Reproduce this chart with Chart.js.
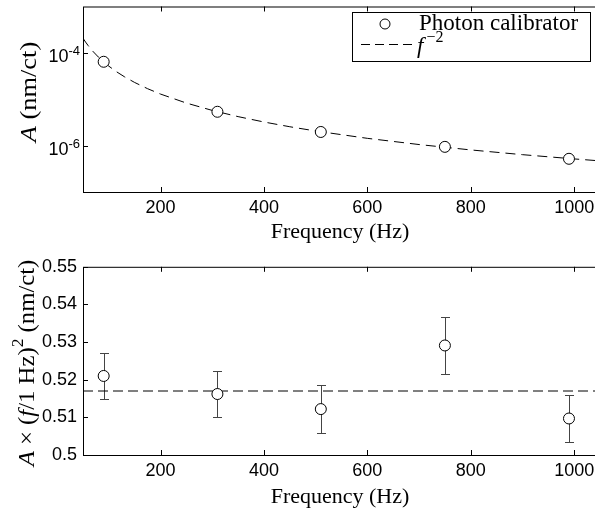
<!DOCTYPE html>
<html>
<head>
<meta charset="utf-8">
<script src="https://cdn.jsdelivr.net/npm/chart.js@4"></script>
<style>
  html, body { margin: 0; padding: 0; background: #fff; }
  body { width: 595px; height: 510px; overflow: hidden; position: relative; }
  canvas { display: block; position: absolute; left: 0; }
  #top { top: 0; }
  #bottom { top: 250px; }
</style>
</head>
<body>
<canvas id="top" width="610" height="250"></canvas>
<canvas id="bottom" width="610" height="260"></canvas>
<script>
// measured frequencies (Hz)
var freq = [90, 310, 510, 750, 990];
// actuation amplitude A (nm/ct), top panel
var amp = [6.43e-5, 5.37e-6, 1.97e-6, 9.41e-7, 5.20e-7];
// A x (f / 1 Hz)^2 (nm/ct), bottom panel, with 1-sigma errors
var normAmp = [0.5210, 0.5162, 0.5122, 0.5291, 0.5097];
var normErr = [0.0060, 0.0060, 0.0064, 0.0075, 0.0063];
// f^-2 fit constant and the frequencies the model curve is drawn at
var fitConst = 0.517;
var fitFreq = [50, 55, 60, 65, 70, 80, 90, 100, 115, 130, 150, 175, 200, 250, 300,
               350, 400, 450, 500, 600, 700, 800, 900, 1000, 1050];
var xTicks = [200, 400, 600, 800, 1000];
var logTicks = [-6, -4];

var sans = 'Liberation Sans, Arial, sans-serif';
var serif = 'Liberation Serif, Times New Roman, serif';
var tickFont = { family: sans, size: 18 };

function richText(ctx, parts, cx, cy, rot, size, sx) {
  var supSize = Math.round(size * 0.7);
  ctx.save();
  ctx.translate(cx, cy);
  if (rot) ctx.rotate(-Math.PI / 2);
  ctx.scale(sx || 1, 1);
  ctx.textBaseline = 'middle';
  ctx.textAlign = 'left';
  ctx.fillStyle = '#000';
  var fontOf = function (p) {
    return (p.italic ? 'italic ' : '') + (p.sup ? supSize : size) + 'px ' + serif;
  };
  var w = 0;
  parts.forEach(function (p) { ctx.font = fontOf(p); w += ctx.measureText(p.t).width; });
  var x = -w / 2;
  parts.forEach(function (p) {
    ctx.font = fontOf(p);
    ctx.fillText(p.t, x, p.sup ? -size * 0.4 : 0);
    x += ctx.measureText(p.t).width;
  });
  ctx.restore();
}

function frameTicks(chart) {
  var ctx = chart.ctx, a = chart.chartArea;
  var xs = chart.scales.x, ys = chart.scales.y;
  ctx.save();
  ctx.strokeStyle = '#000';
  ctx.lineWidth = 1;
  ctx.strokeRect(a.left + 0.5, a.top + 0.5, a.right - a.left, a.bottom - a.top);
  ctx.beginPath();
  xs.ticks.forEach(function (t) {
    var px = Math.round(xs.getPixelForValue(t.value)) + 0.5;
    ctx.moveTo(px, a.bottom); ctx.lineTo(px, a.bottom - 5);
    ctx.moveTo(px, a.top); ctx.lineTo(px, a.top + 5);
  });
  ys.ticks.forEach(function (t) {
    var py = Math.round(ys.getPixelForValue(t.value)) + 0.5;
    ctx.moveTo(a.left, py); ctx.lineTo(a.left + 5, py);
    ctx.moveTo(a.right, py); ctx.lineTo(a.right - 5, py);
  });
  ctx.stroke();
  ctx.restore();
}

function setXTicks(s) { s.ticks = xTicks.map(function (v) { return { value: v }; }); }

var xScale = {
  type: 'linear', min: 50, max: 1050,
  afterBuildTicks: setXTicks,
  grid: { display: false, drawTicks: false },
  border: { display: false },
  ticks: {
    font: tickFont, color: '#000', padding: 5,
    callback: function (v) { return String(v); }
  }
};

var topPlugin = {
  id: 'topDeco',
  afterDraw: function (chart) {
    var ctx = chart.ctx, ys = chart.scales.y;
    frameTicks(chart);
    // log tick labels 10^n
    ctx.save();
    ctx.fillStyle = '#000';
    ctx.textBaseline = 'alphabetic';
    ys.ticks.forEach(function (t) {
      var py = ys.getPixelForValue(t.value);
      var e = String(Math.round(Math.log10(t.value)));
      ctx.font = '13px ' + sans;
      var ew = ctx.measureText(e).width;
      ctx.textAlign = 'right';
      ctx.fillText(e, 80, py + 2);
      ctx.font = '18px ' + sans;
      ctx.fillText('10', 80 - ew, py + 9);
    });
    ctx.restore();
    // legend
    ctx.save();
    ctx.fillStyle = '#fff';
    ctx.fillRect(352, 12, 238, 49);
    ctx.strokeStyle = '#000';
    ctx.lineWidth = 1;
    ctx.strokeRect(352.5, 12.5, 238, 49);
    ctx.beginPath();
    ctx.arc(385, 24, 5, 0, Math.PI * 2);
    ctx.stroke();
    ctx.setLineDash([9, 5]);
    ctx.beginPath();
    ctx.moveTo(361, 44.5); ctx.lineTo(412, 44.5);
    ctx.stroke();
    ctx.setLineDash([]);
    ctx.fillStyle = '#000';
    ctx.textBaseline = 'middle';
    ctx.textAlign = 'left';
    ctx.font = '23px ' + serif;
    ctx.fillText('Photon calibrator', 419, 24);
    ctx.font = 'italic 23px ' + serif;
    ctx.fillText('f', 417, 47);
    var fw = ctx.measureText('f').width;
    ctx.font = '16px ' + serif;
    ctx.fillText('\u22122', 417 + fw + 3, 38);
    ctx.restore();
    richText(ctx, [{ t: 'Frequency (Hz)' }], 340, 232, false, 22, 1);
    richText(ctx, [{ t: 'A', italic: true }, { t: ' (nm/ct)' }], 30, 92, true, 24, 1.1);
  }
};

var bottomPlugin = {
  id: 'bottomDeco',
  beforeDatasetsDraw: function (chart) {
    var ctx = chart.ctx, xs = chart.scales.x, ys = chart.scales.y;
    ctx.save();
    ctx.strokeStyle = '#444';
    ctx.lineWidth = 1;
    ctx.beginPath();
    freq.forEach(function (f, i) {
      var px = Math.round(xs.getPixelForValue(f)) + 0.5;
      var y1 = Math.round(ys.getPixelForValue(normAmp[i] + normErr[i])) + 0.5;
      var y2 = Math.round(ys.getPixelForValue(normAmp[i] - normErr[i])) + 0.5;
      ctx.moveTo(px, y1); ctx.lineTo(px, y2);
      ctx.moveTo(px - 4.5, y1); ctx.lineTo(px + 4.5, y1);
      ctx.moveTo(px - 4.5, y2); ctx.lineTo(px + 4.5, y2);
    });
    ctx.stroke();
    ctx.restore();
  },
  afterDraw: function (chart) {
    var ctx = chart.ctx;
    frameTicks(chart);
    richText(ctx, [{ t: 'Frequency (Hz)' }], 340, 247, false, 22, 1);
    richText(ctx, [
      { t: 'A', italic: true }, { t: ' \u00d7 (' }, { t: 'f', italic: true },
      { t: '/1 Hz)' }, { t: '2', sup: true }, { t: ' (nm/ct)' }
    ], 28, 113, true, 24, 1.03);
  }
};

var circleStyle = {
  showLine: false, pointStyle: 'circle', pointRadius: 5.5,
  borderColor: '#000', backgroundColor: '#fff', pointBorderWidth: 1
};

new Chart(document.getElementById('top'), {
  type: 'scatter',
  data: {
    datasets: [
      {
        label: 'f^-2',
        data: fitFreq.map(function (f) { return { x: f, y: fitConst / (f * f) }; }),
        showLine: true, borderColor: '#000', borderWidth: 1, borderDash: [10, 6],
        pointRadius: 0, tension: 0, order: 2
      },
      Object.assign({
        label: 'Photon calibrator',
        data: freq.map(function (f, i) { return { x: f, y: amp[i] }; }),
        order: 1
      }, circleStyle)
    ]
  },
  options: {
    responsive: false,
    animation: false,
    layout: { padding: { top: 3, right: 10, left: 0, bottom: 0 } },
    plugins: { legend: { display: false }, tooltip: { enabled: false } },
    scales: {
      x: Object.assign({}, xScale, { afterFit: function (s) { s.height = 58; } }),
      y: {
        type: 'logarithmic', min: 1e-7, max: 1e-3,
        afterBuildTicks: function (s) {
          s.ticks = logTicks.map(function (e) { return { value: Math.pow(10, e) }; });
        },
        grid: { display: false, drawTicks: false },
        border: { display: false },
        ticks: { display: false },
        afterFit: function (s) { s.width = 83; }
      }
    }
  },
  plugins: [topPlugin]
});

new Chart(document.getElementById('bottom'), {
  type: 'scatter',
  data: {
    datasets: [
      {
        label: 'fit',
        data: [{ x: 50, y: fitConst }, { x: 1050, y: fitConst }],
        showLine: true, borderColor: '#000', borderWidth: 1, borderDash: [10, 5],
        pointRadius: 0, order: 2
      },
      Object.assign({
        label: 'Photon calibrator',
        data: freq.map(function (f, i) { return { x: f, y: normAmp[i] }; }),
        order: 1
      }, circleStyle)
    ]
  },
  options: {
    responsive: false,
    animation: false,
    layout: { padding: { top: 16, right: 10, left: 0, bottom: 0 } },
    plugins: { legend: { display: false }, tooltip: { enabled: false } },
    scales: {
      x: Object.assign({}, xScale, { afterFit: function (s) { s.height = 55; } }),
      y: {
        type: 'linear', min: 0.5, max: 0.55,
        grid: { display: false, drawTicks: false },
        border: { display: false },
        ticks: {
          stepSize: 0.01, font: tickFont, color: '#000', padding: 6,
          callback: function (v) { return String(+v.toFixed(2)); }
        },
        afterFit: function (s) { s.width = 83; }
      }
    }
  },
  plugins: [bottomPlugin]
});
</script>
</body>
</html>
